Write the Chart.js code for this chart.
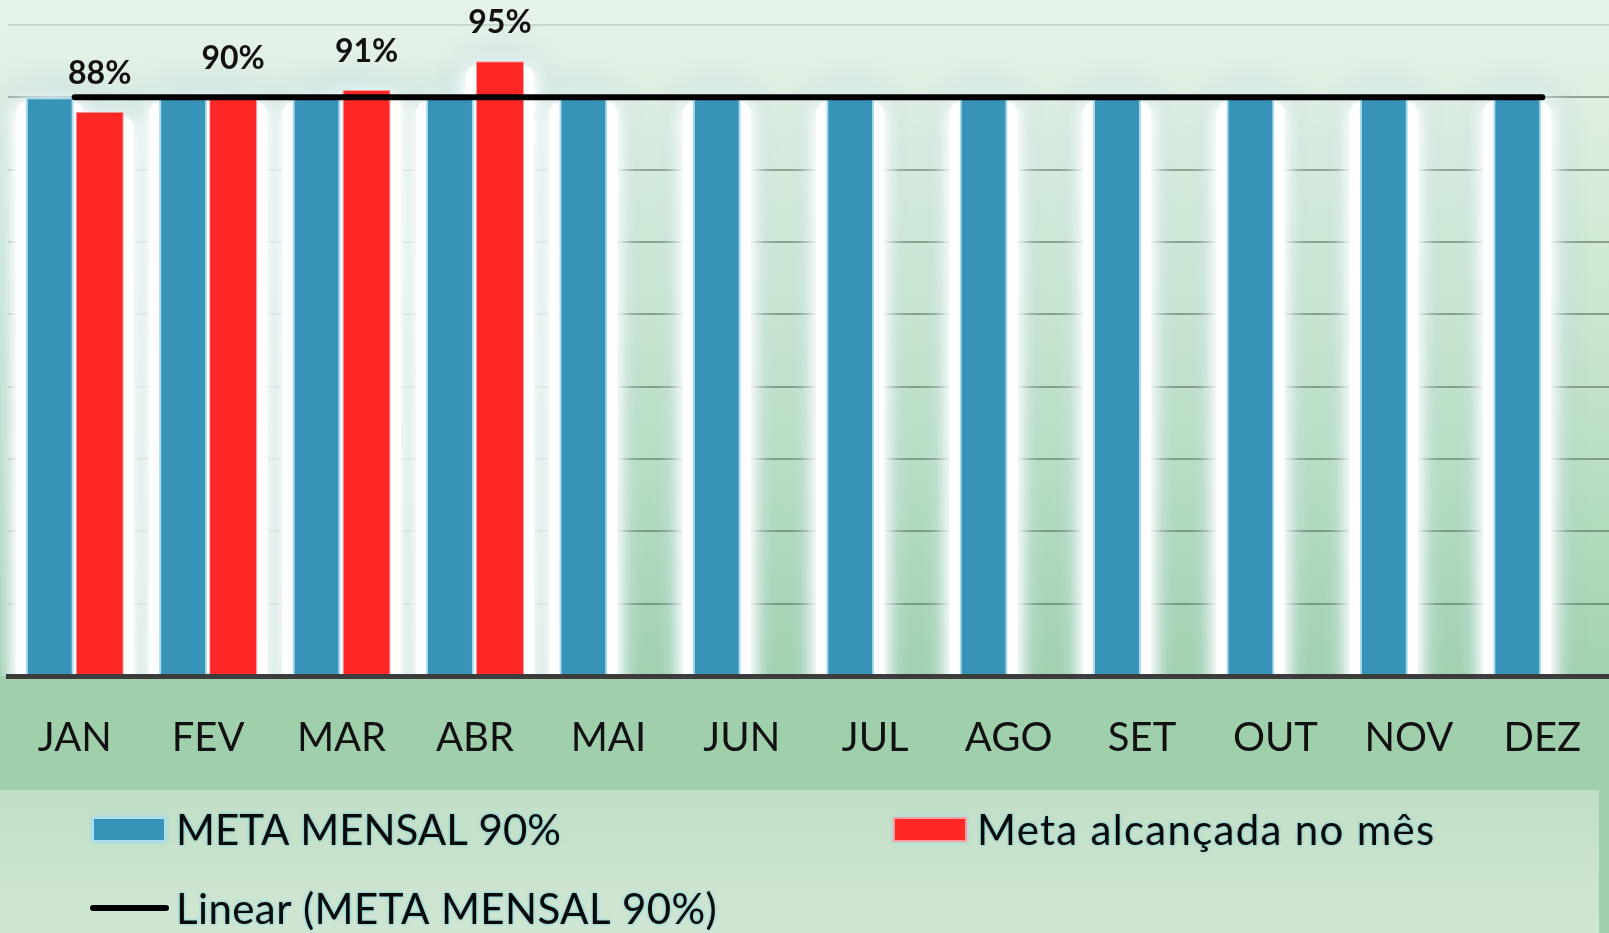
<!DOCTYPE html>
<html>
<head>
<meta charset="utf-8">
<script src="https://cdn.jsdelivr.net/npm/chart.js@4.4.1/dist/chart.umd.min.js"></script>
<style>
  html, body { margin: 0; padding: 0; background: #a0d0ab; }
  #wrap { width: 1609px; height: 933px; position: relative; }
</style>
</head>
<body>
<div id="wrap"><canvas id="c" width="1609" height="933"></canvas></div>
<script>
// ---- data ----
const categories = ['JAN', 'FEV', 'MAR', 'ABR', 'MAI', 'JUN', 'JUL', 'AGO', 'SET', 'OUT', 'NOV', 'DEZ'];
const metaMensal = [90, 90, 90, 90, 90, 90, 90, 90, 90, 90, 90, 90];
const metaAlcancada = [88, 90, 91, 95, null, null, null, null, null, null, null, null];
const linearMeta = [90, 90, 90, 90, 90, 90, 90, 90, 90, 90, 90, 90];
const seriesNames = ['META MENSAL 90%', 'Meta alcançada no mês', 'Linear (META MENSAL 90%)'];
const yMin = 10, yMax = 100, yStep = 10;

// ---- styles ----
const BLUE = '#3793b8', BLUE_EDGE = '#a8ddf3';
const RED = '#ff2626', RED_EDGE = '#ff9c9c';
const LEGEND_H = 143;

const backgroundPlugin = {
  id: 'bg',
  beforeDraw(chart) {
    const { ctx, chartArea, width, height } = chart;
    ctx.save();
    const g = ctx.createLinearGradient(0, 0, 0, chartArea.bottom);
    g.addColorStop(0, '#e7f3e9');
    g.addColorStop(0.45, '#cbe7d1');
    g.addColorStop(1, '#a2d3ae');
    ctx.fillStyle = g;
    ctx.fillRect(0, 0, width, chartArea.bottom);
    ctx.fillStyle = '#a0d0ab';
    ctx.fillRect(0, chartArea.bottom, width, height - chartArea.bottom);
    const lt = height - LEGEND_H;
    const g2 = ctx.createLinearGradient(0, lt, 0, height);
    g2.addColorStop(0, '#c2dfc6');
    g2.addColorStop(1, '#d0e6d4');
    ctx.fillStyle = g2;
    ctx.fillRect(0, lt, width - 10, LEGEND_H);
    ctx.restore();
  }
};

const glowPlugin = {
  id: 'glow',
  beforeDatasetsDraw(chart) {
    const { ctx, chartArea } = chart;
    ctx.save();
    ctx.beginPath();
    ctx.rect(0, 0, chart.width, chartArea.bottom);
    ctx.clip();
    const rects = [];
    chart.data.datasets.forEach((ds, i) => {
      if (ds.type === 'line') return;
      const meta = chart.getDatasetMeta(i);
      meta.data.forEach((el, j) => {
        if (ds.data[j] === null) return;
        const p = el.getProps(['x', 'y', 'base', 'width'], true);
        rects.push([p.x - p.width / 2, p.y, p.width, p.base - p.y + 40]);
      });
    });
    const pass = (color, blur, pad, dy) => {
      ctx.shadowColor = color;
      ctx.shadowBlur = blur;
      ctx.fillStyle = 'rgba(255,255,255,1)';
      rects.forEach(r => ctx.fillRect(r[0] - pad, r[1] + dy, r[2] + 2 * pad, r[3]));
    };
    pass('rgba(150,195,222,1)', 44, 2, 4);
    pass('rgba(255,255,255,1)', 30, 6, 6);
    pass('rgba(255,255,255,1)', 22, 8, 8);
    pass('rgba(255,255,255,1)', 14, 10, 12);
    ctx.restore();
  }
};

const valueLabelPlugin = {
  id: 'valueLabels',
  afterDatasetsDraw(chart) {
    const { ctx } = chart;
    const idx = 1;
    const meta = chart.getDatasetMeta(idx);
    ctx.save();
    ctx.font = 'bold 32px Lato';
    ctx.fillStyle = '#111';
    ctx.textAlign = 'center';
    ctx.textBaseline = 'alphabetic';
    meta.data.forEach((el, j) => {
      const v = chart.data.datasets[idx].data[j];
      if (v === null) return;
      const p = el.getProps(['x', 'y'], true);
      ctx.fillText(v + '%', p.x, p.y - 28);
    });
    ctx.restore();
  }
};

const customLegendPlugin = {
  id: 'customLegend',
  afterDraw(chart) {
    const { ctx, height } = chart;
    const lt = height - LEGEND_H;
    const ds = chart.data.datasets;
    const items = [
      { i: 0, bx: 92, cy: lt + 39, kind: 'box', ls: '0px' },
      { i: 1, bx: 893, cy: lt + 39, kind: 'box', ls: '1.3px' },
      { i: 2, bx: 90, cy: lt + 118, kind: 'line', ls: '0.4px' }
    ];
    ctx.save();
    items.forEach(it => {
      const d = ds[it.i];
      if (it.kind === 'box') {
        ctx.shadowColor = 'rgba(140,215,240,0.9)';
        ctx.shadowBlur = 4;
        ctx.fillStyle = d.backgroundColor;
        ctx.fillRect(it.bx, it.cy - 12, 74, 25);
        ctx.shadowBlur = 0;
        ctx.lineWidth = 2;
        ctx.strokeStyle = d.borderColor;
        ctx.strokeRect(it.bx + 1, it.cy - 11, 72, 23);
      } else {
        ctx.shadowBlur = 0;
        ctx.strokeStyle = d.borderColor;
        ctx.lineWidth = 6;
        ctx.lineCap = 'round';
        ctx.beginPath();
        ctx.moveTo(it.bx + 3, it.cy);
        ctx.lineTo(it.bx + 76, it.cy);
        ctx.stroke();
      }
      ctx.font = '42px Lato';
      ctx.letterSpacing = it.ls;
      ctx.textAlign = 'left';
      ctx.textBaseline = 'middle';
      ctx.fillStyle = '#0a0a0a';
      ctx.shadowColor = 'rgba(90,200,225,0.95)';
      ctx.shadowBlur = 3;
      ctx.fillText(d.label, it.bx + (it.kind === 'box' ? 84 : 86), it.cy + 2);
    });
    ctx.restore();
  }
};

new Chart(document.getElementById('c'), {
  type: 'bar',
  data: {
    labels: categories,
    datasets: [
      {
        label: seriesNames[0],
        data: metaMensal,
        backgroundColor: BLUE,
        borderColor: BLUE_EDGE,
        borderWidth: 2,
        categoryPercentage: 0.75,
        barPercentage: 0.96,
        order: 2
      },
      {
        label: seriesNames[1],
        data: metaAlcancada,
        backgroundColor: RED,
        borderColor: RED_EDGE,
        borderWidth: 1,
        categoryPercentage: 0.75,
        barPercentage: 0.96,
        order: 2
      },
      {
        type: 'line',
        label: seriesNames[2],
        data: linearMeta,
        borderColor: '#000',
        backgroundColor: '#000',
        borderWidth: 6,
        borderCapStyle: 'round',
        pointRadius: 0,
        fill: false,
        order: 0
      }
    ]
  },
  options: {
    responsive: false,
    animation: false,
    devicePixelRatio: 1,
    layout: { padding: { top: 25, left: 8, right: 0, bottom: 133 } },
    plugins: {
      legend: { display: false },
      tooltip: { enabled: false }
    },
    scales: {
      x: {
        grid: { display: false, drawTicks: false },
        border: { display: true, color: '#3c3c3c', width: 5, z: 1 },
        ticks: { color: '#111', font: { family: 'Lato', size: 40 }, padding: 38, maxRotation: 0 },
        afterFit: (s) => { s.paddingLeft = 0; s.paddingRight = 0; }
      },
      y: {
        min: yMin,
        max: yMax,
        ticks: { display: false, stepSize: yStep, padding: 0 },
        border: { display: false },
        grid: {
          drawTicks: false,
          lineWidth: 2,
          color: ctx => (ctx.tick && ctx.tick.value === yMax) ? 'rgba(150,165,150,0.35)' : 'rgba(70,90,70,0.5)'
        }
      }
    }
  },
  plugins: [backgroundPlugin, glowPlugin, valueLabelPlugin, customLegendPlugin]
});
</script>
</body>
</html>
